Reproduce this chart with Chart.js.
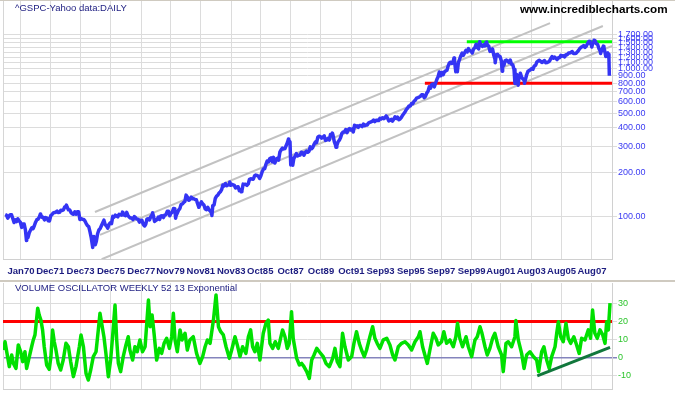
<!DOCTYPE html>
<html><head><meta charset="utf-8">
<script src="https://cdn.jsdelivr.net/npm/chart.js@4.4.1/dist/chart.umd.min.js"></script>
<style>
html,body{margin:0;padding:0;background:#fff;}
#wrap{position:relative;width:675px;height:395px;overflow:hidden;background:#fff;}
canvas{position:absolute;left:0;top:0;}
.t{position:absolute;font-family:"Liberation Sans",Arial,sans-serif;white-space:nowrap;}
.bar{position:absolute;left:0;width:675px;}
</style></head><body>
<div id="wrap">
<canvas id="cTop" width="675" height="281"></canvas>
<canvas id="cBot" width="675" height="395"></canvas>
<div class="bar" style="top:0;height:1px;background:#cfcac0;"></div>
<div class="bar" style="top:280px;height:2px;background:#cfcac0;"></div>
<div class="t" style="left:15px;top:2px;font-size:9.5px;line-height:11px;color:#1c1c80;">^GSPC-Yahoo data:DAILY</div>
<div class="t" style="left:520px;top:2px;font-size:11.7px;line-height:13px;font-weight:bold;color:#000;">www.incrediblecharts.com</div>
<div class="t" style="left:15px;top:282px;font-size:9.5px;line-height:11px;color:#1c1c80;">VOLUME OSCILLATOR WEEKLY 52 13 Exponential</div>
</div>
<script>
// ---------- axis categories ----------
const xTickValues = [1970.04,1971.96,1973.96,1975.96,1977.96,1979.88,1981.88,1983.88,1985.79,1987.79,1989.79,1991.79,1993.71,1995.71,1997.71,1999.71,2001.63,2003.63,2005.63,2007.63];
const xTickLabels = ['Jan70','Dec71','Dec73','Dec75','Dec77','Nov79','Nov81','Nov83','Oct85','Oct87','Oct89','Oct91','Sep93','Sep95','Sep97','Sep99','Aug01','Aug03','Aug05','Aug07'];
const priceTicks = [100,200,300,400,500,600,700,800,900,1000,1100,1200,1300,1400,1500,1600,1700];
const oscTicks = [-10,0,10,20,30];

// ---------- price series (month-end closes, by year) ----------
const priceYears = [1969,1970,1971,1972,1973,1974,1975,1976,1977,1978,1979,1980,1981,1982,1983,1984,1985,1986,1987,1988,1989,1990,1991,1992,1993,1994,1995,1996,1997,1998,1999,2000,2001,2002,2003,2004,2005,2006,2007,2008];
const priceMonthly = [
[103.0,98.1,101.5,103.7,103.5,97.7,91.8,95.5,93.1,97.2,93.8,92.1],
[85.0,89.5,89.6,81.5,76.6,72.7,78.1,81.5,84.3,83.3,87.2,92.2],
[95.9,96.8,100.3,103.9,99.6,99.7,95.6,99.0,98.3,94.2,94.0,102.1],
[103.9,106.6,107.2,107.7,109.5,107.1,107.4,111.1,110.6,111.6,116.7,118.1],
[116.0,111.7,111.5,107.0,105.0,104.3,108.2,104.3,108.4,108.3,96.0,97.6],
[96.6,96.2,94.0,90.3,87.3,86.0,79.3,72.2,63.5,73.9,70.0,68.6],
[77.0,81.6,83.4,87.3,91.2,95.2,88.8,86.9,83.9,89.0,91.2,90.2],
[100.9,99.7,102.8,101.6,100.2,104.3,103.4,102.9,105.2,102.9,102.1,107.5],
[102.0,99.8,98.4,98.4,96.1,100.5,98.9,96.8,96.5,92.3,94.8,95.1],
[89.3,87.0,89.2,97.0,97.2,95.5,100.7,103.3,102.5,93.2,94.7,96.1],
[99.9,96.3,101.6,101.8,99.1,102.9,103.8,109.3,109.3,101.8,106.2,107.9],
[114.2,113.7,102.1,106.3,111.2,114.2,121.7,122.4,125.5,127.5,140.5,135.8],
[129.6,131.3,136.0,132.8,132.6,131.2,130.9,122.8,116.2,121.9,126.4,122.6],
[120.4,113.1,112.0,116.4,111.9,109.6,107.1,119.5,120.4,133.7,138.5,140.6],
[145.3,148.1,153.0,164.4,162.4,168.1,162.6,164.4,166.1,163.6,166.4,164.9],
[163.4,157.1,159.2,160.1,150.6,153.2,150.7,166.7,166.1,166.1,163.6,167.2],
[179.6,181.2,180.7,179.8,189.6,191.9,190.9,188.6,182.1,189.8,202.2,211.3],
[211.8,226.9,238.9,235.5,247.4,250.8,236.1,252.9,231.3,244.0,249.2,242.2],
[274.1,284.2,291.7,288.4,290.1,304.0,318.7,329.8,321.8,251.8,230.3,247.1],
[257.1,267.8,258.9,261.3,262.2,273.5,272.0,261.5,271.9,279.0,273.7,277.7],
[297.5,288.9,294.9,309.6,320.5,318.0,346.1,351.5,349.2,340.4,346.0,353.4],
[329.1,331.9,339.9,330.8,361.2,358.0,356.2,322.6,306.1,304.0,322.2,330.2],
[343.9,367.1,375.2,375.3,389.8,371.2,387.8,395.4,387.9,392.5,375.2,417.1],
[408.8,412.7,403.7,415.0,415.4,408.1,424.2,414.0,417.8,418.7,431.4,435.7],
[438.8,443.4,451.7,440.2,450.2,450.5,448.1,463.6,458.9,467.8,461.8,466.5],
[481.6,467.1,445.8,450.9,456.5,444.3,458.3,475.5,462.7,472.4,453.7,459.3],
[470.4,487.4,500.7,514.7,533.4,544.8,562.1,561.9,584.4,581.5,605.4,615.9],
[636.0,640.4,645.5,654.2,669.1,670.6,640.0,652.0,687.3,705.3,757.0,740.7],
[786.2,790.8,757.1,801.3,848.3,885.1,954.3,899.5,947.3,914.6,955.4,970.4],
[980.3,1049.3,1101.8,1111.8,1090.8,1133.8,1120.7,957.3,1017.0,1098.7,1163.6,1229.2],
[1279.6,1238.3,1286.4,1335.2,1301.8,1372.7,1328.7,1320.4,1282.7,1362.9,1388.9,1469.3],
[1394.5,1366.4,1498.6,1452.4,1420.6,1454.6,1430.8,1517.7,1436.5,1429.4,1315.2,1320.3],
[1366.0,1239.9,1160.3,1249.5,1255.8,1224.4,1211.2,1133.6,1040.9,1059.8,1139.5,1148.1],
[1130.2,1106.7,1147.4,1076.9,1067.1,989.8,911.6,916.1,815.3,885.8,936.3,879.8],
[855.7,841.2,848.2,916.9,963.6,974.5,990.3,1008.0,996.0,1050.7,1058.2,1111.9],
[1131.1,1144.9,1126.2,1107.3,1120.7,1140.8,1101.7,1104.2,1114.6,1130.2,1173.8,1211.9],
[1181.3,1203.6,1180.6,1156.9,1191.5,1191.3,1234.2,1220.3,1228.8,1207.0,1249.5,1248.3],
[1280.1,1280.7,1294.8,1310.6,1270.1,1270.2,1276.7,1303.8,1335.9,1377.9,1400.6,1418.3],
[1438.2,1406.8,1420.9,1482.4,1530.6,1503.4,1455.3,1474.0,1526.8,1549.4,1481.1,1468.4],
[1378.6,1330.6,1322.7,1385.6,1400.4,1280.0,1267.4,1282.8,1166.4]
];
// intramonth highs / lows (decimal year, value)
const priceExtraDates  = [1969.00,1970.40,1971.32,1973.03,1974.76,1974.93,1976.72,1978.18,1978.70,1980.22,1980.91,1982.61,1983.78,1984.55,1987.65,1987.80,1987.93,1990.54,1990.78,1998.55,1998.77,2000.23,2000.70,2001.26,2001.72,2002.56,2002.77,2003.19,2007.16,2007.44,2007.62,2007.77,2008.20,2008.38,2008.54,2008.72,2008.775];
const priceExtraValues = [103.9,69.3,104.8,120.2,62.3,65.0,107.8,86.9,106.9,98.2,140.5,102.4,172.6,147.8,336.8,224.8,223.9,369.0,295.5,1186.8,959.0,1527.5,1520.8,1103.3,965.8,797.7,776.8,800.7,1399.0,1539.2,1406.7,1565.2,1273.4,1426.6,1214.9,1255.1,899.2];

// channel and level lines (decimal year, value)
const chanTopDates = [1974.91, 2004.87], chanTopValues = [108.1, 2039];
const chanMidDates = [1975.24, 2008.35], chanMidValues = [75.6, 1952];
const chanLowDates = [1975.35, 2008.95], chanLowValues = [51.8, 1430];
const resistDates = [1999.39, 2008.95], resistValues = [1530, 1530];
const supportDates = [1996.63, 2008.95], supportValues = [800, 800];

// ---------- volume oscillator ----------
const oscDates = [1968.88,1968.99,1969.10,1969.27,1969.43,1969.54,1969.71,1969.86,1970.02,1970.15,1970.30,1970.41,1970.59,1970.74,1970.85,1970.96,1971.14,1971.24,1971.35,1971.46,1971.57,1971.73,1971.90,1972.01,1972.12,1972.23,1972.34,1972.49,1972.65,1972.82,1973.00,1973.16,1973.31,1973.49,1973.66,1973.88,1973.99,1974.15,1974.32,1974.47,1974.63,1974.80,1974.98,1975.13,1975.24,1975.35,1975.50,1975.63,1975.79,1975.94,1976.07,1976.23,1976.34,1976.45,1976.60,1976.77,1976.95,1977.10,1977.21,1977.39,1977.54,1977.69,1977.87,1978.04,1978.21,1978.32,1978.43,1978.54,1978.67,1978.80,1978.97,1979.15,1979.30,1979.46,1979.63,1979.81,1979.96,1980.07,1980.18,1980.33,1980.51,1980.64,1980.84,1980.99,1981.16,1981.38,1981.60,1981.82,1982.00,1982.16,1982.31,1982.49,1982.71,1982.88,1983.04,1983.19,1983.36,1983.54,1983.76,1983.91,1984.13,1984.28,1984.46,1984.63,1984.85,1985.01,1985.16,1985.29,1985.44,1985.60,1985.77,1985.99,1986.17,1986.32,1986.43,1986.61,1986.78,1986.98,1987.13,1987.26,1987.42,1987.57,1987.70,1987.85,1987.96,1988.19,1988.37,1988.52,1988.67,1988.85,1989.02,1989.18,1989.33,1989.51,1989.68,1989.94,1990.12,1990.34,1990.56,1990.71,1990.86,1991.04,1991.21,1991.37,1991.59,1991.81,1991.96,1992.13,1992.31,1992.46,1992.64,1992.79,1993.01,1993.19,1993.34,1993.49,1993.67,1993.89,1994.12,1994.33,1994.51,1994.66,1994.88,1995.10,1995.32,1995.54,1995.76,1995.98,1996.20,1996.31,1996.48,1996.63,1996.79,1996.96,1997.18,1997.36,1997.51,1997.73,1997.88,1998.06,1998.28,1998.50,1998.67,1998.78,1998.93,1999.11,1999.34,1999.49,1999.71,1999.93,2000.08,2000.26,2000.39,2000.59,2000.74,2000.91,2001.09,2001.24,2001.46,2001.68,2001.79,2001.97,2002.12,2002.34,2002.56,2002.62,2002.78,2003.00,2003.16,2003.33,2003.55,2003.77,2003.99,2004.12,2004.32,2004.47,2004.65,2004.82,2004.98,2005.20,2005.31,2005.42,2005.57,2005.74,2005.92,2006.07,2006.23,2006.44,2006.62,2006.79,2006.95,2007.17,2007.39,2007.54,2007.67,2007.82,2007.98,2008.16,2008.34,2008.49,2008.60,2008.71,2008.82];
const oscValues = [4.1,8.7,3.1,-5.2,1.3,-3.4,-6.2,6.9,3.1,-2.4,3.1,-6.2,0.4,5.9,9.7,12.5,27.4,23.6,20.8,15.3,5.9,-4.3,-6.7,0.4,15.3,8.7,4.1,-3.4,-7.1,-1.5,7.8,5.9,-2.4,-10.8,-5.2,5.9,12.5,5.9,-9.0,-12.7,-7.1,0.4,3.1,15.3,24.6,19.0,11.5,2.2,-10.8,-1.5,11.5,29.2,9.7,-3.4,-8.0,0.4,6.9,11.5,4.1,-1.5,5.9,3.1,9.7,3.1,5.9,19.0,32.0,17.1,23.6,13.4,-1.5,5.0,2.2,7.8,10.6,5.0,11.5,24.6,9.7,3.1,15.3,9.7,13.4,4.1,9.7,11.5,2.2,-3.4,0.4,5.9,9.7,7.8,20.8,34.8,17.1,14.3,12.5,5.9,-0.6,4.1,11.5,6.9,0.4,5.9,2.2,11.5,15.3,5.9,3.1,7.8,-1.5,13.4,19.0,20.8,7.8,5.0,8.7,5.0,10.6,15.3,11.5,5.0,7.8,25.5,10.6,-0.6,-4.3,-3.4,-5.2,-8.0,-11.8,-1.5,1.3,5.0,3.1,0.4,-3.4,-5.2,-0.6,5.0,-2.4,-5.2,13.4,5.9,-1.5,0.4,7.8,14.3,7.8,4.1,0.4,4.1,11.5,17.1,10.6,7.8,5.0,9.7,10.6,6.9,1.3,-1.5,5.9,7.8,8.7,6.9,4.1,8.7,11.5,14.3,5.9,1.3,-3.4,4.1,13.4,10.6,6.9,8.7,14.3,7.8,9.7,5.9,11.5,19.0,10.6,5.9,11.5,5.9,0.4,9.7,11.5,17.1,13.4,5.9,1.3,5.0,10.6,13.4,5.9,1.3,-8.0,7.8,8.7,5.9,11.5,20.5,9.7,2.2,-6.2,1.3,3.1,0.4,-1.5,-8.0,3.1,5.9,-1.5,-6.2,0.4,5.9,13.4,19.9,11.5,8.7,19.0,10.6,7.8,11.5,6.9,2.2,10.6,9.7,15.3,10.6,26.4,13.4,10.6,15.3,12.5,7.8,19.9,15.3,30.2];
const oscSignalDates = [1968.855, 2008.95], oscSignalValues = [20, 20];
const oscTrendDates = [2004.03, 2008.82], oscTrendValues = [-10.4, 5.6];

// ---------- build ----------
const X_MIN = 1968.855, X_MAX = 2008.95;
const FONT = '"Liberation Sans", Arial, sans-serif';
const pts = (xs, ys) => xs.map((x, i) => ({x, y: ys[i]}));

const pricePts = [];
priceYears.forEach((yr, i) => priceMonthly[i].forEach((v, m) => pricePts.push({x: yr + (m + 1) / 12, y: v})));
priceExtraDates.forEach((d, i) => pricePts.push({x: d, y: priceExtraValues[i]}));
pricePts.sort((a, b) => a.x - b.x);

const leftBorder = {
  id: 'leftBorder',
  beforeDatasetsDraw(chart) {
    const {ctx, chartArea: a} = chart;
    ctx.save(); ctx.strokeStyle = '#d6d6d6'; ctx.lineWidth = 1;
    ctx.beginPath(); ctx.moveTo(a.left + 0.5, a.top); ctx.lineTo(a.left + 0.5, a.bottom); ctx.stroke();
    ctx.restore();
  }
};
const lineDs = (data, color, width) => ({data, borderColor: color, borderWidth: width, pointRadius: 0, tension: 0, fill: false, borderJoinStyle: 'round'});
const noPad = s => { s.paddingTop = 0; s.paddingBottom = 0; };

const xScale = (showLabels, h) => ({
  type: 'linear', min: X_MIN, max: X_MAX,
  afterBuildTicks: s => { s.ticks = xTickValues.map(v => ({value: v})); },
  afterFit: s => { s.height = h; s.paddingLeft = 0; s.paddingRight = 0; },
  ticks: {display: showLabels, autoSkip: false, maxRotation: 0, minRotation: 0, padding: 7, color: '#1c1c80',
    font: {family: FONT, size: 9.5, weight: 'bold'}, callback: (v, i) => xTickLabels[i]},
  grid: {color: '#dcdcdc', lineWidth: 1, drawTicks: false},
  border: {display: true, color: '#d0d0d0'}
});

new Chart(document.getElementById('cTop'), {
  type: 'line',
  data: {datasets: [
    lineDs(pricePts, '#3434f4', 3.5),
    lineDs(pts(resistDates, resistValues), '#00ff00', 3),
    lineDs(pts(supportDates, supportValues), '#ff0000', 3),
    lineDs(pts(chanTopDates, chanTopValues), '#c2c2c2', 2),
    lineDs(pts(chanMidDates, chanMidValues), '#c2c2c2', 2),
    lineDs(pts(chanLowDates, chanLowValues), '#c2c2c2', 2)
  ]},
  options: {
    responsive: false, animation: false, events: [],
    layout: {padding: {left: 3, right: 0, top: 0, bottom: 0}},
    plugins: {legend: {display: false}, tooltip: {enabled: false}},
    scales: {
      x: xScale(true, 22),
      y: {type: 'logarithmic', position: 'right', min: 52, max: 2924,
        afterBuildTicks: s => { s.ticks = priceTicks.map(v => ({value: v})); },
        afterFit: s => { s.width = 63; noPad(s); },
        ticks: {autoSkip: false, padding: 1, color: '#3a3af2', font: {family: FONT, size: 9},
          callback: v => Number(v).toLocaleString('en-US', {minimumFractionDigits: 2, maximumFractionDigits: 2})},
        grid: {color: '#dcdcdc', lineWidth: 1, drawTicks: true, tickLength: 5},
        border: {display: true, color: '#d0d0d0'}
      }
    }
  },
  plugins: [leftBorder]
});

new Chart(document.getElementById('cBot'), {
  type: 'line',
  data: {datasets: [
    lineDs(pts(oscTrendDates, oscTrendValues), '#11773c', 3),
    lineDs(pts(oscDates, oscValues), '#00e000', 3.5),
    lineDs(pts(oscSignalDates, oscSignalValues), '#ff0000', 3)
  ]},
  options: {
    responsive: false, animation: false, events: [],
    layout: {padding: {left: 3, right: 0, top: 283, bottom: 6}},
    plugins: {legend: {display: false}, tooltip: {enabled: false}},
    scales: {
      x: xScale(false, 0),
      y: {type: 'linear', position: 'right', min: -17.7, max: 41.5,
        afterBuildTicks: s => { s.ticks = oscTicks.map(v => ({value: v})); },
        afterFit: s => { s.width = 63; noPad(s); },
        ticks: {autoSkip: false, padding: 1, color: '#2cc42c', font: {family: FONT, size: 9},
          callback: v => String(v)},
        grid: {color: c => (c.tick && c.tick.value === 0) ? '#8484bc' : '#dcdcdc',
               lineWidth: c => (c.tick && c.tick.value === 0) ? 1.5 : 1, drawTicks: true, tickLength: 5},
        border: {display: true, color: '#d0d0d0'}
      }
    }
  },
  plugins: [leftBorder]
});
</script>
</body></html>
